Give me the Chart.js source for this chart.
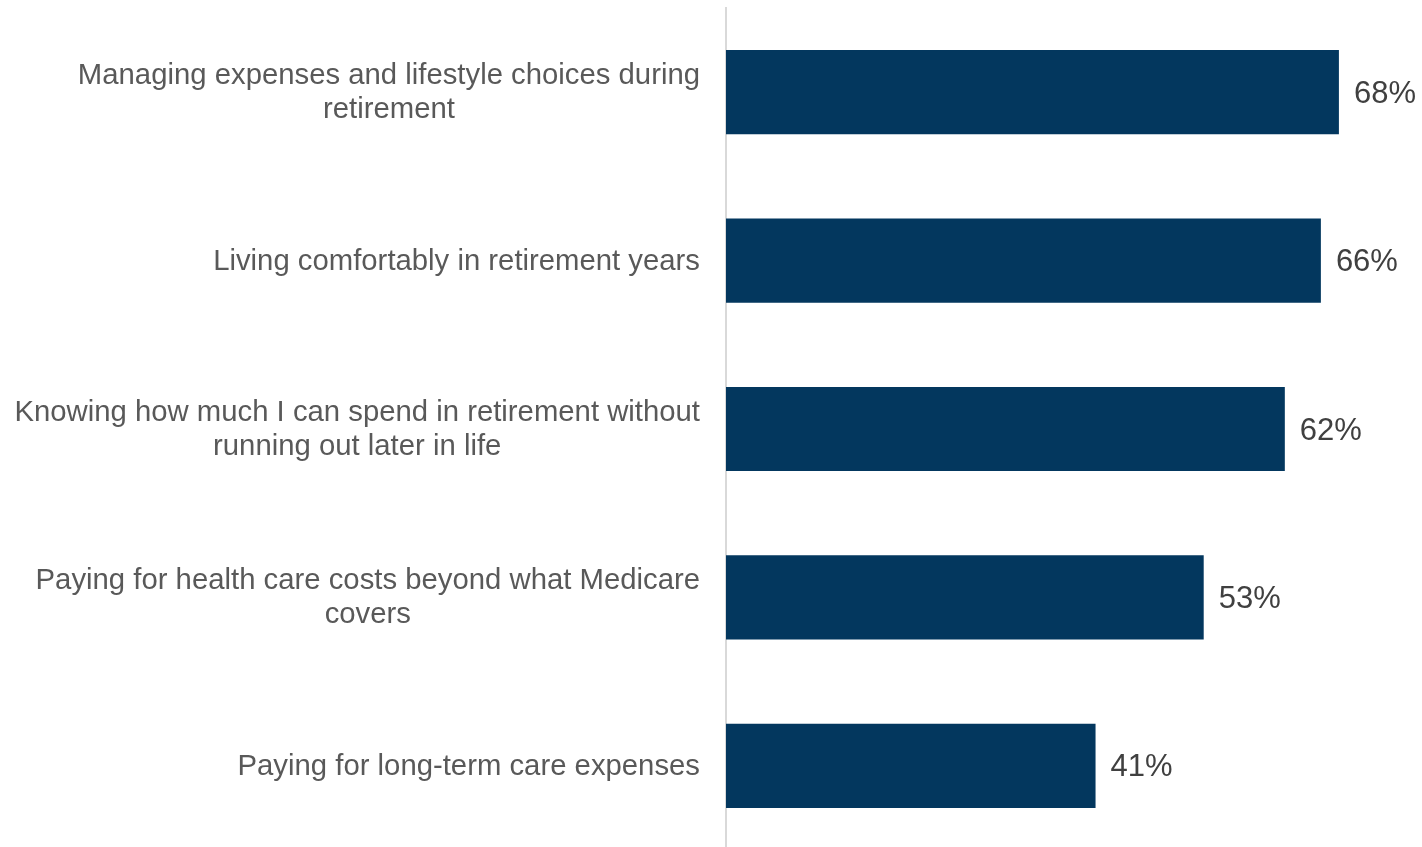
<!DOCTYPE html>
<html lang="en">
<head>
    <meta charset="UTF-8">
    <title>Retirement concerns</title>
    <script src="https://cdn.jsdelivr.net/npm/chart.js"></script>
    <style>
        html, body { margin: 0; padding: 0; background: #fff; overflow: hidden; }
        .wrap { position: relative; width: 1422px; height: 850px; }
    </style>
</head>
<body>
<div class="wrap">
    <canvas id="concernChart"></canvas>
</div>

<script>
    // 항목 (여러 줄 라벨)
    const categories = [
        ['Managing expenses and lifestyle choices during', 'retirement'],
        ['Living comfortably in retirement years'],
        ['Knowing how much I can spend in retirement without', 'running out later in life'],
        ['Paying for health care costs beyond what Medicare', 'covers'],
        ['Paying for long-term care expenses']
    ];
    // 응답 비율 (%)
    const shares = [68, 66, 62, 53, 41];

    const FONT = 'Arial, "Liberation Sans", sans-serif';

    // 항목 라벨: 블록은 오른쪽 정렬, 줄은 가운데 정렬
    const categoryLabels = {
        id: 'categoryLabels',
        afterDraw(chart) {
            const ctx = chart.ctx;
            const yScale = chart.scales.y;
            const rightEdge = chart.chartArea.left - 26;
            const lineH = 34;
            ctx.save();
            ctx.font = '29.3px ' + FONT;
            ctx.fillStyle = '#595959';
            ctx.textAlign = 'center';
            ctx.textBaseline = 'middle';
            categories.forEach((lines, i) => {
                const cy = yScale.getPixelForTick(i) + 1;
                const widest = Math.max(...lines.map(l => ctx.measureText(l).width));
                const cx = rightEdge - widest / 2;
                const top = cy - (lines.length - 1) * lineH / 2;
                lines.forEach((l, j) => ctx.fillText(l, cx, top + j * lineH));
            });
            ctx.restore();
        }
    };

    // 막대 끝에 퍼센트 표시
    const valueLabels = {
        id: 'valueLabels',
        afterDatasetsDraw(chart) {
            const ctx = chart.ctx;
            const meta = chart.getDatasetMeta(0);
            ctx.save();
            ctx.font = '31px ' + FONT;
            ctx.fillStyle = '#404040';
            ctx.textAlign = 'left';
            ctx.textBaseline = 'middle';
            meta.data.forEach((bar, i) => {
                ctx.fillText(shares[i] + '%', bar.x + 15, bar.y + 2);
            });
            ctx.restore();
        }
    };

    const ctx = document.getElementById('concernChart').getContext('2d');
    new Chart(ctx, {
        type: 'bar',
        data: {
            labels: categories.map(l => l.join(' ')),
            datasets: [{
                data: shares,
                backgroundColor: '#03375e',
                barPercentage: 0.5,
                categoryPercentage: 1.0
            }]
        },
        options: {
            indexAxis: 'y',
            responsive: true,
            maintainAspectRatio: false,
            animation: false,
            layout: { autoPadding: false, padding: { top: 8, right: 20, bottom: 0, left: 0 } },
            plugins: {
                legend: { display: false },
                tooltip: { enabled: false }
            },
            scales: {
                x: {
                    min: 0,
                    max: 75,
                    display: false
                },
                y: {
                    afterFit(scale) { scale.width = 726; },
                    grid: { display: false, drawTicks: false },
                    border: { display: true, color: '#d9d9d9', width: 2 },
                    ticks: { display: false }
                }
            }
        },
        plugins: [valueLabels, categoryLabels]
    });
</script>
</body>
</html>
